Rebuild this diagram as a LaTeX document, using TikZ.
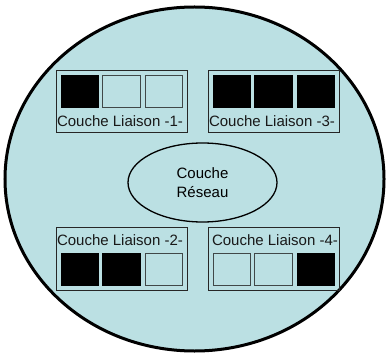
\documentclass[tikz,border=0pt]{standalone}
\usepackage{fontspec}
\setmainfont{Liberation Sans}
\usetikzlibrary{shapes.geometric}
\definecolor{bgblue}{HTML}{BBE0E3}
\definecolor{sqgray}{HTML}{404848}
\tikzset{
  world/.style={ellipse,draw=black,line width=3pt,fill=bgblue,minimum width=379pt,minimum height=344pt,inner sep=0pt},
  layerbox/.style={rectangle,draw=black!85,line width=1pt,minimum width=131pt,minimum height=62.5pt,inner sep=0pt},
  slot/.style={rectangle,draw=sqgray,line width=0.8pt,minimum width=37.5pt,minimum height=32pt,inner sep=0pt},
  full/.style={slot,fill=black,draw=black},
  empty/.style={slot,fill=bgblue},
  lbl/.style={font=\fontsize{15pt}{17pt}\selectfont,inner sep=0pt,text=black!90},
  net/.style={ellipse,draw=black,line width=1.3pt,minimum width=149pt,minimum height=79pt,inner sep=0pt,align=center,font=\fontsize{15pt}{19pt}\selectfont}
}
\begin{document}
\begin{tikzpicture}[x=1pt,y=-1pt]
\useasboundingbox (0,0) rectangle (387,355);
\node[world] (w) at (194.5,179) {};
% box 1
\node[layerbox] (b1) at (121.5,101.5) {};
\node[full] (s11) at (80,91) {};
\node[empty] (s12) at (121.5,91) {};
\node[empty] (s13) at (164,91) {};
\node[lbl] (t1) at (120,121) {Couche Liaison -1-};
% box 3
\node[layerbox] (b3) at (273.5,101.5) {};
\node[full] (s31) at (232,91) {};
\node[full] (s32) at (273.5,91) {};
\node[full] (s33) at (316,91) {};
\node[lbl] (t3) at (272,121) {Couche Liaison -3-};
% box 2
\node[layerbox] (b2) at (121.5,259) {};
\node[lbl] (t2) at (120,240) {Couche Liaison -2-};
\node[full] (s21) at (80,269) {};
\node[full] (s22) at (121.5,269) {};
\node[empty] (s23) at (164,269) {};
% box 4
\node[layerbox] (b4) at (273.5,259) {};
\node[lbl] (t4) at (275,240) {Couche Liaison -4-};
\node[empty] (s41) at (232,269) {};
\node[empty] (s42) at (273.5,269) {};
\node[full] (s43) at (316,269) {};
% network layer
\node[net] (n) at (202.5,182.5) {Couche\\Réseau};
\end{tikzpicture}
\end{document}
